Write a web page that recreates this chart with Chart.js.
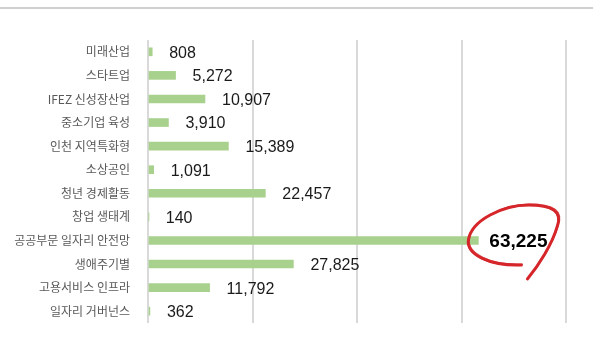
<!DOCTYPE html>
<html lang="ko">
<head>
<meta charset="utf-8">
<title>일자리 사업별 예산</title>
<script src="https://cdn.jsdelivr.net/npm/chart.js@4.4.1/dist/chart.umd.min.js"></script>
<style>
    html, body { margin: 0; padding: 0; background: #fff; }
    .wrap { position: relative; width: 593px; height: 354px; overflow: hidden; }
    .wrap .rule { position: absolute; left: 0; right: 0; top: 7px; height: 2px; background: #d0d0d0; }
    .wrap canvas { position: absolute; left: 0; top: 0; }
</style>
</head>
<body>
<div class="wrap">
    <div class="rule"></div>
    <canvas id="jobsChart" width="593" height="354"></canvas>
</div>
<script>
const categories = [
    '미래산업', '스타트업', 'IFEZ 신성장산업', '중소기업 육성', '인천 지역특화형', '소상공인',
    '청년 경제활동', '창업 생태계', '공공부문 일자리 안전망', '생애주기별', '고용서비스 인프라', '일자리 거버넌스'
];
const budgets = [808, 5272, 10907, 3910, 15389, 1091, 22457, 140, 63225, 27825, 11792, 362];
const xTicks = [0, 20000, 40000, 60000, 80000];
const highlightIndex = 8;

(function (window, document) {
    'use strict';

    // value text at the end of each bar, the largest one circled in red
    let valueLabels = {
        id: 'valueLabels',
        afterDatasetsDraw: function (chart) {
            let ctx = chart.ctx;
            let meta = chart.getDatasetMeta(0);

            ctx.save();
            ctx.textBaseline = 'middle';
            ctx.textAlign = 'left';

            meta.data.forEach(function (bar, i) {
                let text = budgets[i].toLocaleString('en-US');
                let big = i === highlightIndex;
                ctx.font = big ? 'bold 19px "Liberation Sans", Arial, sans-serif'
                               : '16px "Liberation Sans", Arial, sans-serif';
                ctx.fillStyle = big ? '#000' : '#1a1a1a';
                let x = bar.x + (big ? 11 : 17);
                let y = bar.y + 1.5;
                ctx.fillText(text, x, y);

                if (big) {
                    let w = ctx.measureText(text).width;
                    drawLoop(ctx, x + w / 2, y);
                }
            });

            ctx.restore();
        }
    };

    // loose hand-drawn loop, open at the bottom with a trailing tail
    function drawLoop(ctx, cx, cy) {
        ctx.save();
        ctx.strokeStyle = '#d5262b';
        ctx.lineCap = 'round';
        ctx.lineJoin = 'round';

        [[0, 0, 3], [0.9, -0.8, 1.4], [-0.7, 0.6, 1]].forEach(function (p) {
            let ox = cx + p[0];
            let oy = cy + p[1];
            ctx.lineWidth = p[2];
            ctx.globalAlpha = p[2] > 2 ? 1 : 0.7;
            ctx.beginPath();
            ctx.moveTo(ox + 3, oy + 23);
            ctx.bezierCurveTo(ox - 30, oy + 24, ox - 52, oy + 12, ox - 50, oy - 2);
            ctx.bezierCurveTo(ox - 47, oy - 22, ox - 15, oy - 37, ox + 10, oy - 37);
            ctx.bezierCurveTo(ox + 35, oy - 37, ox + 44, oy - 30, ox + 39, oy - 16);
            ctx.bezierCurveTo(ox + 34, oy + 2, ox + 20, oy + 24, ox + 9, oy + 37);
            ctx.stroke();
        });

        ctx.restore();
    }

    let canvas = document.getElementById('jobsChart');

    new Chart(canvas, {
        type: 'bar',
        data: {
            labels: categories,
            datasets: [{
                data: budgets,
                backgroundColor: '#a9d18e',
                borderWidth: 0,
                barThickness: 8
            }]
        },
        options: {
            indexAxis: 'y',
            responsive: false,
            animation: false,
            events: [],
            layout: {
                padding: { left: 0, right: 27, top: 40, bottom: 31 }
            },
            plugins: {
                legend: { display: false },
                tooltip: { enabled: false }
            },
            scales: {
                x: {
                    min: xTicks[0],
                    max: xTicks[xTicks.length - 1],
                    afterBuildTicks: function (scale) {
                        scale.ticks = xTicks.map(function (v) { return { value: v }; });
                    },
                    afterFit: function (scale) { scale.height = 0; },
                    ticks: { display: false },
                    border: { display: false },
                    grid: { color: '#d9d9d9', lineWidth: 2, drawTicks: false }
                },
                y: {
                    afterFit: function (scale) { scale.width = 148; },
                    grid: { display: false },
                    border: { display: false },
                    ticks: {
                        padding: 10,
                        color: '#595959',
                        font: { family: '"Noto Sans CJK KR", sans-serif', size: 12 }
                    }
                }
            }
        },
        plugins: [valueLabels]
    });

})(window, document);
</script>
</body>
</html>
